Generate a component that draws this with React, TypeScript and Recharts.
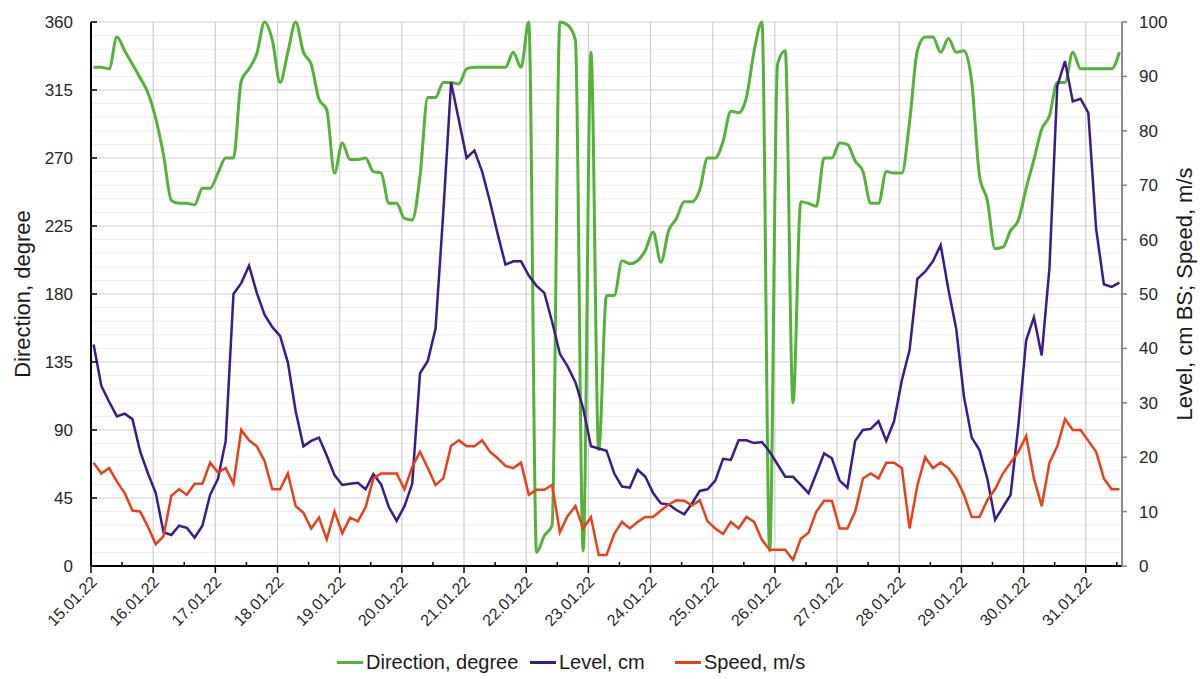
import { LineChart, Line, XAxis, YAxis, CartesianGrid, Legend, Label } from "recharts";

// 3-hourly readings, 15.01.22 01:00 .. 31.01.22 13:00
const START_HOUR = 1;
const STEP_HOURS = 3;
const X_MAX = 398;

const direction = [
  330, 330, 329, 350, 341, 332, 323, 313, 296, 272, 242, 240, 240, 239, 250, 250,
  260, 270, 270, 321, 329, 339, 360, 348, 320, 340, 360, 340, 332, 309, 302, 260,
  280, 269, 269, 270, 261, 260, 240, 240, 230, 229, 258, 310, 310, 320, 320, 319,
  329, 330, 330, 330, 330, 330, 340, 330, 360, 9, 20, 27, 360, 358, 348, 10,
  340, 77, 179, 179, 202, 200, 202, 209, 221, 201, 222, 230, 241, 241, 249, 270,
  270, 281, 301, 300, 310, 341, 360, 10, 332, 341, 108, 241, 240, 238, 270, 270,
  280, 279, 268, 261, 240, 240, 261, 260, 260, 294, 341, 350, 350, 340, 349, 340,
  341, 320, 258, 242, 210, 211, 222, 229, 250, 269, 289, 298, 320, 320, 340, 329,
  329, 329, 329, 329, 340,
];

const level = [
  40.7, 33.1, 30.2, 27.5, 28, 27, 21, 17, 13.4, 6.2, 5.7, 7.4, 7, 5.2, 7.4, 13.1,
  16, 23, 50, 52, 55.2, 50.2, 46.2, 43.9, 42.3, 37.4, 28.5, 22, 23, 23.6, 20.3, 16.7,
  14.9, 15.1, 15.3, 14.1, 16.9, 15, 10.8, 8.3, 11, 15.1, 35.4, 37.7, 43.6, 65, 88.9, 82,
  75, 76.4, 72.5, 67, 61, 55.4, 56, 56, 53.4, 51.5, 50.2, 44.9, 39, 36.7, 33.8, 29,
  22, 21.6, 21.2, 17, 14.6, 14.4, 17.7, 16.4, 13.4, 11.5, 11.3, 10.3, 9.5, 11.5, 13.8, 14.1,
  15.7, 19.7, 19.5, 23.1, 23.1, 22.6, 22.8, 21, 18.7, 16.4, 16.4, 14.9, 13.4, 17, 20.7, 19.8,
  15.7, 14.4, 23, 25, 25.2, 26.6, 23, 26.6, 34.1, 39.7, 52.8, 54.1, 56, 59, 50.8, 43.6,
  31.1, 23.6, 21.3, 16.1, 8.5, 10.8, 13.1, 25.9, 41.5, 45.7, 38.7, 54.8, 88.2, 92.8, 85.4, 85.9,
  83.3, 62, 51.8, 51.3, 52.1,
];

const speed = [
  19, 17, 18, 15.5, 13.4, 10.2, 10, 7.2, 4, 5.5, 12.9, 14.1, 13.1, 15.1, 15.1, 19,
  17.2, 18, 15.1, 25, 23.1, 22, 19.3, 14.1, 14.1, 17, 11, 9.8, 6.9, 8.9, 4.9, 10,
  6, 8.9, 8.2, 10.8, 16.1, 17, 17, 17, 14.1, 18.2, 21, 18, 14.9, 16.1, 22.1, 23.1,
  22, 22, 23.1, 21, 19.8, 18.4, 18, 19, 13.1, 14, 14, 14.9, 6.2, 9.2, 11, 6.9,
  9, 2, 2, 5.9, 8.1, 6.9, 8.1, 9, 9, 10.2, 11.3, 12.1, 12, 11.1, 12.1, 8.2,
  6.9, 5.9, 8.1, 6.9, 9, 8.1, 4.8, 3, 3, 3, 1.1, 5, 6.1, 10, 12, 12,
  6.9, 6.9, 10, 16.1, 17, 16.1, 19, 19, 18, 6.9, 14.8, 20, 18, 19, 18, 16.1,
  13.1, 9, 9, 12.1, 14.1, 17, 19, 21, 23.9, 16.1, 11, 19, 22, 27, 25, 25,
  23, 21, 16.1, 14.1, 14.1,
];

const dirTicks = [0, 45, 90, 135, 180, 225, 270, 315, 360];
const dirMinor = [9, 18, 27, 36, 54, 63, 72, 81, 99, 108, 117, 126, 144, 153, 162, 171, 189, 198, 207, 216, 234, 243, 252, 261, 279, 288, 297, 306, 324, 333, 342, 351];
const levelTicks = [0, 10, 20, 30, 40, 50, 60, 70, 80, 90, 100];
const dayHours = [0, 24, 48, 72, 96, 120, 144, 168, 192, 216, 240, 264, 288, 312, 336, 360, 384];
const halfDayHours = [0, 12, 24, 36, 48, 60, 72, 84, 96, 108, 120, 132, 144, 156, 168, 180, 192, 204, 216, 228, 240, 252, 264, 276, 288, 300, 312, 324, 336, 348, 360, 372, 384, 396];

const GREEN = "#55b13a";
const PURPLE = "#3b1c87";
const RED = "#e8401c";
const FONT = '"Liberation Sans", Arial, sans-serif';

const data = direction.map((d, i) => ({
  t: START_HOUR + STEP_HOURS * i,
  direction: d,
  level: level[i],
  speed: speed[i],
}));

const dateLabel = (h: number) => {
  const day = 15 + h / 24;
  return `${day}.01.22`;
};

const DateTick = (props: any) => {
  const { x, y, payload } = props;
  const h = payload.value;
  if (h % 24 !== 0) {
    return <line x1={x} x2={x} y1={y} y2={y - 4} stroke="#000" strokeWidth={1.5} />;
  }
  const tx = x + 3;
  const ty = y + 13;
  return (
    <g>
      <line x1={x} x2={x} y1={y} y2={y + 7} stroke="#000" strokeWidth={1.5} />
      <text
        x={tx}
        y={ty}
        dy="0.35em"
        textAnchor="end"
        transform={`rotate(-45 ${tx} ${ty})`}
        fontSize={16}
        fill="#262626"
        fontFamily={FONT}
      >
        {dateLabel(h)}
      </text>
    </g>
  );
};

const AxisTitle = ({ viewBox, value, cx }: any) => {
  const cy = viewBox.y + viewBox.height / 2;
  const x = viewBox.x + cx;
  return (
    <text
      x={x}
      y={cy}
      textAnchor="middle"
      dominantBaseline="central"
      transform={`rotate(-90 ${x} ${cy})`}
      fontSize={22}
      fill="#1a1a1a"
      fontFamily={FONT}
    >
      {value}
    </text>
  );
};

const legendWidths = [193, 145, 140];

const renderLegend = (props: any) => {
  const { payload } = props;
  return (
    <div style={{ display: "flex", paddingLeft: 337, fontFamily: FONT, fontSize: 20, color: "#1a1a1a" }}>
      {payload.map((p: any, i: number) => (
        <div key={p.value} style={{ width: legendWidths[i], display: "flex", alignItems: "center" }}>
          <span style={{ display: "inline-block", width: 26, height: 3, background: p.color, marginRight: 3 }} />
          <span>{p.value}</span>
        </div>
      ))}
    </div>
  );
};

const scaleOf = (axis: any, v: number, fallback: number) =>
  axis && typeof axis.scale === "function" ? axis.scale(v) : fallback;

export default function App() {
  return (
    <div style={{ position: "absolute", left: 0, top: 0, width: 1200, height: 679, background: "#fff" }}>
      <LineChart width={1200} height={679} data={data} margin={{ top: 22, right: 0, left: 0, bottom: 0 }}>
        <CartesianGrid
          yAxisId="dir"
          vertical={false}
          stroke="#ededed"
          strokeWidth={1}
          horizontalCoordinatesGenerator={({ yAxis, offset }: any) =>
            dirMinor.map((v) => scaleOf(yAxis, v, offset.top + offset.height * (1 - v / 360)))
          }
        />
        <CartesianGrid
          yAxisId="dir"
          stroke="#cfcfcf"
          strokeWidth={1.2}
          horizontalCoordinatesGenerator={({ yAxis, offset }: any) =>
            dirTicks.map((v) => scaleOf(yAxis, v, offset.top + offset.height * (1 - v / 360)))
          }
          verticalCoordinatesGenerator={({ xAxis, offset }: any) =>
            dayHours.map((h) => scaleOf(xAxis, h, offset.left + (offset.width * h) / X_MAX))
          }
        />
        <XAxis
          dataKey="t"
          type="number"
          domain={[0, X_MAX]}
          ticks={halfDayHours}
          interval={0}
          height={113}
          tickSize={0}
          tickMargin={0}
          tickLine={false}
          tick={<DateTick />}
          axisLine={{ stroke: "#000", strokeWidth: 2 }}
        />
        <YAxis
          yAxisId="dir"
          orientation="left"
          width={91}
          domain={[0, 360]}
          ticks={dirTicks}
          interval={0}
          tickSize={-6}
          tickMargin={24}
          tickLine={{ stroke: "#000", strokeWidth: 1.5 }}
          axisLine={{ stroke: "#000", strokeWidth: 2 }}
          tick={{ fontSize: 17, fill: "#262626", fontFamily: FONT }}
        >
          <Label content={<AxisTitle value="Direction, degree" cx={22} />} />
        </YAxis>
        <YAxis
          yAxisId="lvl"
          orientation="right"
          width={78}
          domain={[0, 100]}
          ticks={levelTicks}
          interval={0}
          tickSize={5}
          tickMargin={12}
          tickLine={{ stroke: "#7f7f7f", strokeWidth: 1.5 }}
          axisLine={{ stroke: "#8c8c8c", strokeWidth: 2 }}
          tick={{ fontSize: 17, fill: "#262626", fontFamily: FONT }}
        >
          <Label content={<AxisTitle value="Level, cm BS; Speed, m/s" cx={62} />} />
        </YAxis>
        <Legend
          verticalAlign="middle"
          align="center"
          layout="horizontal"
          wrapperStyle={{ top: 651, left: 0, width: 1200 }}
          content={renderLegend}
        />
        <Line
          yAxisId="dir"
          type="monotone"
          dataKey="direction"
          name="Direction, degree"
          stroke={GREEN}
          strokeWidth={3}
          dot={false}
          isAnimationActive={false}
        />
        <Line
          yAxisId="lvl"
          type="linear"
          dataKey="level"
          name="Level, cm"
          stroke={PURPLE}
          strokeWidth={2.5}
          dot={false}
          isAnimationActive={false}
        />
        <Line
          yAxisId="lvl"
          type="linear"
          dataKey="speed"
          name="Speed, m/s"
          stroke={RED}
          strokeWidth={2.5}
          dot={false}
          isAnimationActive={false}
        />
      </LineChart>
    </div>
  );
}
